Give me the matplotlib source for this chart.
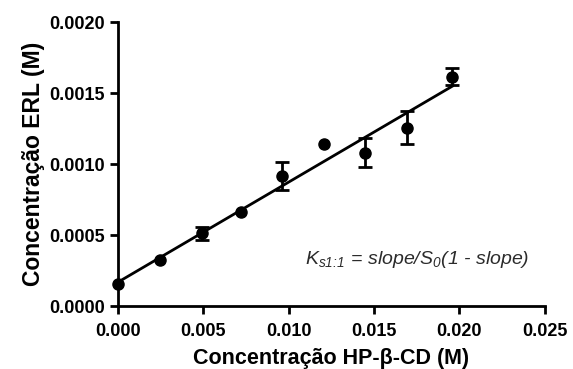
import numpy as np
import matplotlib
matplotlib.use("Agg")
import matplotlib.pyplot as plt

plt.rcParams['font.family'] = ['Liberation Sans', 'DejaVu Sans']
plt.rcParams['mathtext.fontset'] = 'custom'
plt.rcParams['mathtext.rm'] = 'Liberation Sans:italic'
plt.rcParams['mathtext.it'] = 'Liberation Sans:italic'

# HP-beta-CD concentration (M) vs ERL concentration (M)
hpbcd = [0.0000, 0.00248, 0.00491, 0.00721, 0.00963, 0.01207, 0.01447, 0.01691, 0.01958]
erl = [0.000153, 0.000322, 0.000513, 0.000663, 0.000917, 0.001142, 0.00108, 0.001257, 0.001617]
erl_sd = [0.0, 0.0, 0.000045, 0.0, 0.0001, 0.0, 0.000102, 0.000115, 0.000062]

x_ticks = [0.000, 0.005, 0.010, 0.015, 0.020, 0.025]
y_ticks = [0.0000, 0.0005, 0.0010, 0.0015, 0.0020]

fig = plt.figure(figsize=(5.73, 3.69), dpi=100)
ax = fig.add_axes([0.2054, 0.1707, 0.7456, 0.7689])

# linear regression through the points
slope, intercept = np.polyfit(hpbcd, erl, 1)
xfit = np.array([0.0, max(hpbcd)])
ax.plot(xfit, slope * xfit + intercept, color='black', lw=2, zorder=2)

err = np.array(erl_sd)
ax.errorbar(hpbcd, erl, yerr=np.where(err > 0, err, np.nan), fmt='o', color='black',
            ms=8, elinewidth=2, capsize=4.8, capthick=2, zorder=3, clip_on=False)

ax.text(0.0241, 0.00033, r"$K_{s1\!:\!1}$ = slope/S$_{0}$(1 - slope)", fontsize=14,
        style='italic', color='#2b2b2b', ha='right', va='center')

ax.set_xlim(0, 0.025)
ax.set_ylim(0, 0.002)
ax.set_xticks(x_ticks)
ax.set_xticklabels(["%.3f" % t for t in x_ticks])
ax.set_yticks(y_ticks)
ax.set_yticklabels(["%.4f" % t for t in y_ticks])

for side in ['top', 'right']:
    ax.spines[side].set_visible(False)
for side in ['left', 'bottom']:
    ax.spines[side].set_linewidth(2)
ax.tick_params(direction='out', length=6, width=2, labelsize=13)
ax.tick_params(axis='x', pad=6)
ax.tick_params(axis='y', pad=3)
for lbl in ax.get_xticklabels() + ax.get_yticklabels():
    lbl.set_fontweight('bold')

ax.set_xlabel("Concentração HP-β-CD (M)", fontsize=15.5, fontweight='bold', labelpad=6)
ax.set_ylabel("Concentração ERL (M)", fontsize=16.5, fontweight='bold', labelpad=3)

plt.savefig("out.png", dpi=100)
